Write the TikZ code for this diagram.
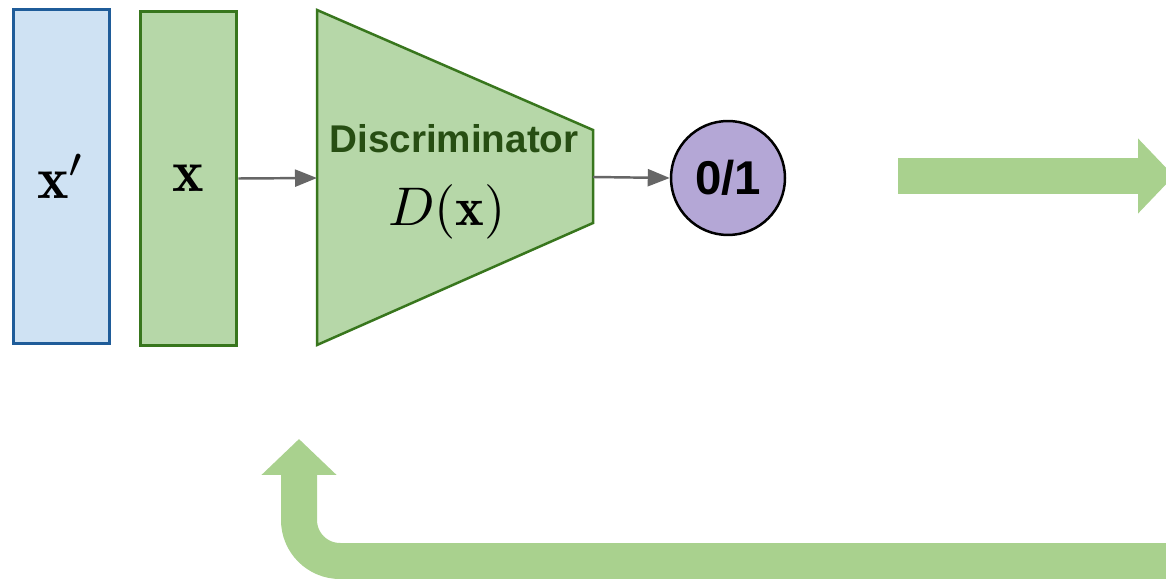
\documentclass[tikz,border=0pt]{standalone}
\usepackage{amsmath}
\usepackage{graphicx}
\usepackage{fontspec}
\newfontfamily\headfont{Liberation Sans}
\usepackage{tikz}
\usetikzlibrary{arrows.meta,positioning}

\definecolor{inputblue}{HTML}{CFE2F3}
\definecolor{inputedge}{HTML}{1F5C99}
\definecolor{netgreen}{HTML}{B6D7A8}
\definecolor{netedge}{HTML}{38761D}
\definecolor{nettext}{HTML}{274E13}
\definecolor{outpurple}{HTML}{B4A7D6}
\definecolor{flowgreen}{HTML}{A9D18E}
\definecolor{wiregray}{HTML}{666666}

% large math symbols inside the blocks
\newcommand{\bigmath}[2][3]{\scalebox{#1}{$#2$}}

\begin{document}
\begin{tikzpicture}[
        x=0.02cm, y=-0.02cm,
        layer/.style={rectangle, line width=0.06cm, minimum width=1.94cm, minimum height=6.7cm, inner sep=0pt},
        fake/.style={layer, draw=inputedge, fill=inputblue},
        real/.style={layer, draw=netedge, fill=netgreen},
        wire/.style={-{Triangle[length=0.44cm, width=0.34cm]}, draw=wiregray, line width=1.4pt},
        bigarrow/.style={-{Triangle[length=0.72cm, width=1.46cm]}, draw=flowgreen, line width=0.72cm},
        titletext/.style={font=\headfont\bfseries\fontsize{22pt}{26pt}\selectfont, text=nettext, inner sep=0pt}
    ]
    \useasboundingbox (0,0) rectangle (1166,580);

    % Input samples
    \node[fake] (xfake) at (61.5,176.5) {\bigmath[3.4]{\mathbf{x}'}};
    \node[real] (xreal) at (188.5,178.5) {\bigmath[3.4]{\mathbf{x}}};

    % Discriminator (trapezoid)
    \coordinate (disc_tl) at (317,10);
    \coordinate (disc_tr) at (593,130);
    \coordinate (disc_br) at (593,223);
    \coordinate (disc_bl) at (317,345);
    \coordinate (disc_in) at (317,178);
    \coordinate (disc_out) at (593,177);
    \draw[draw=netedge, fill=netgreen, line width=0.05cm, line join=miter]
        (disc_tl) -- (disc_tr) -- (disc_br) -- (disc_bl) -- cycle;
    \node[titletext] (disc_title) at (454,139) {Discriminator};
    \node[inner sep=0pt] (disc_fn) at (447,212) {\bigmath[3.1]{D(\mathbf{x})}};

    % Output decision
    \node[circle, draw=black, fill=outpurple, line width=0.05cm, minimum size=2.28cm, inner sep=0pt,
          font=\headfont\bfseries\fontsize{27pt}{32pt}\selectfont] (decision) at (728,178) {0/1};

    % Arrows
    \draw[wire] (xreal.east) -- (disc_in);
    \draw[wire] (disc_out) -- (decision.west);

    % Forward and feedback flow
    \draw[bigarrow] (898,176) -- (1174,176);
    \draw[bigarrow, rounded corners=0.82cm] (1200,561) -| (299,439);

\end{tikzpicture}
\end{document}
